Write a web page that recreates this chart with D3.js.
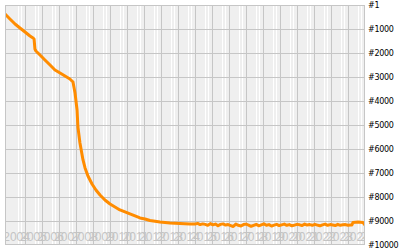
<!DOCTYPE html>
<html>
<head>
<meta charset="utf-8">
<script src="https://cdn.jsdelivr.net/npm/d3@7"></script>
<style>
body { margin: 0; background: #fff; }
</style>
</head>
<body>
<div id="chart"></div>
<script>
var w = 400;
var h = 250;
var padL = 5, padR = 365, padT = 5, padB = 245;

// rank history, decimal year -> rank
var years = [2003.82, 2004.11, 2004.41, 2004.70, 2005.00, 2005.29, 2005.47, 2005.53, 2005.58, 2005.64,
    2005.88, 2006.17, 2006.47, 2006.76, 2007.06, 2007.35, 2007.64, 2007.82, 2007.94, 2008.06,
    2008.11, 2008.23, 2008.41, 2008.53, 2008.70, 2008.94, 2009.17, 2009.41, 2009.70, 2010.00,
    2010.29, 2010.58, 2010.88, 2011.17, 2011.47, 2011.76, 2012.06, 2012.35, 2012.94, 2013.53,
    2014.11, 2014.70, 2015.00, 2015.15, 2015.30, 2015.45, 2015.60, 2015.75, 2015.90, 2016.05,
    2016.20, 2016.35, 2016.50, 2016.65, 2016.80, 2016.95, 2017.10, 2017.25, 2017.40, 2017.55,
    2017.70, 2017.85, 2018.00, 2018.15, 2018.30, 2018.45, 2018.60, 2018.75, 2018.90, 2019.05,
    2019.20, 2019.35, 2019.50, 2019.65, 2019.80, 2019.95, 2020.10, 2020.25, 2020.40, 2020.55,
    2020.70, 2020.85, 2021.00, 2021.15, 2021.30, 2021.45, 2021.60, 2021.75, 2021.90, 2022.05,
    2022.20, 2022.35, 2022.50, 2022.65, 2022.80, 2022.95, 2023.10, 2023.25, 2023.40, 2023.55,
    2023.70, 2023.85, 2024.00, 2024.15, 2024.23, 2024.29, 2024.60, 2024.88, 2025.00];
var ranks = [375, 583, 792, 958, 1125, 1292, 1375, 1417, 1833, 1917,
    2083, 2291, 2500, 2708, 2833, 2958, 3083, 3208, 3666, 4374,
    5083, 5749, 6457, 6790, 7124, 7457, 7707, 7916, 8124, 8290,
    8415, 8540, 8624, 8707, 8790, 8874, 8915, 8978, 9040, 9082,
    9103, 9124, 9130, 9100, 9150, 9120, 9140, 9180, 9110, 9160,
    9130, 9200, 9140, 9120, 9170, 9150, 9190, 9230, 9130, 9180,
    9210, 9150, 9130, 9170, 9220, 9180, 9140, 9200, 9160, 9120,
    9180, 9150, 9210, 9170, 9140, 9190, 9160, 9130, 9180, 9150,
    9200, 9170, 9140, 9160, 9190, 9130, 9170, 9150, 9180, 9140,
    9170, 9200, 9160, 9130, 9180, 9150, 9170, 9190, 9140, 9180,
    9160, 9150, 9180, 9170, 9170, 9060, 9040, 9060, 9170];

var yTicks = [1, 1000, 2000, 3000, 4000, 5000, 6000, 7000, 8000, 9000, 10000];
var xLabels = ["2004", "2005", "2006", "2007", "2008", "2009", "2010", "2011", "2012", "2013", "2014",
    "2015", "2016", "2017", "2018", "2019", "2020", "2021", "2022", "2023", "2024", "2025"];
var xGrid = [2005, 2006, 2007, 2008, 2009, 2010, 2011, 2012, 2013, 2014, 2015, 2016, 2017, 2018,
    2019, 2020, 2021, 2022, 2023, 2024];

var svg = d3.select("#chart")
    .append("svg")
    .attr("width", w)
    .attr("height", h);

var xScale = d3.scaleLinear()
    .domain([2003.82, 2025.0])
    .range([padL, padR]);

var yScale = d3.scaleLinear()
    .domain([1, 10000])
    .range([padT, padB]);

svg.append("defs").append("clipPath")
    .attr("id", "clip")
    .append("rect")
    .attr("x", padL)
    .attr("y", padT)
    .attr("width", padR - padL)
    .attr("height", padB - padT);

svg.append("rect")
    .attr("x", padL)
    .attr("y", padT)
    .attr("width", padR - padL)
    .attr("height", padB - padT)
    .attr("fill", "#efefef");

var plot = svg.append("g").attr("clip-path", "url(#clip)");

// light stripes inside each year
plot.selectAll("line.stripe")
    .data(d3.merge(xGrid.concat([2004]).map(function(y) { return [y + 0.6, y + 0.78]; })))
    .enter().append("line")
    .attr("class", "stripe")
    .attr("x1", function(d) { return Math.round(xScale(d)) + 0.5; })
    .attr("x2", function(d) { return Math.round(xScale(d)) + 0.5; })
    .attr("y1", padT)
    .attr("y2", padB)
    .attr("stroke", "#fff")
    .attr("stroke-width", 1);

plot.selectAll("line.hgrid")
    .data(yTicks)
    .enter().append("line")
    .attr("class", "hgrid")
    .attr("x1", padL)
    .attr("x2", padR)
    .attr("y1", function(d) { return Math.round(yScale(d)) + 0.5; })
    .attr("y2", function(d) { return Math.round(yScale(d)) + 0.5; })
    .attr("stroke", "#c6c6c6");

plot.selectAll("line.vgrid")
    .data(xGrid)
    .enter().append("line")
    .attr("class", "vgrid")
    .attr("x1", function(d) { return Math.round(xScale(d)) + 0.5; })
    .attr("x2", function(d) { return Math.round(xScale(d)) + 0.5; })
    .attr("y1", padT)
    .attr("y2", padB)
    .attr("stroke", "#c6c6c6");

plot.selectAll("text.xlab")
    .data(xLabels)
    .enter().append("text")
    .attr("class", "xlab")
    .attr("x", function(d) { return xScale(+d + 0.5); })
    .attr("y", 241)
    .attr("text-anchor", "middle")
    .attr("font-family", "Liberation Sans, Arial, sans-serif")
    .attr("font-size", 12)
    .attr("fill", "#c4c4c4")
    .text(function(d) { return d; });

var line = d3.line()
    .x(function(d, i) { return xScale(years[i]); })
    .y(function(d) { return yScale(d); });

plot.append("path")
    .datum(ranks)
    .attr("d", line)
    .attr("fill", "none")
    .attr("stroke", "#ff8c00")
    .attr("stroke-width", 3)
    .attr("stroke-linejoin", "round");

svg.append("rect")
    .attr("x", padL + 0.5)
    .attr("y", padT + 0.5)
    .attr("width", padR - padL - 1)
    .attr("height", padB - padT - 1)
    .attr("fill", "none")
    .attr("stroke", "#c6c6c6");

svg.selectAll("text.ylab")
    .data(yTicks)
    .enter().append("text")
    .attr("class", "ylab")
    .attr("x", 368)
    .attr("y", function(d) { return yScale(d); })
    .attr("dy", "0.35em")
    .attr("font-family", "DejaVu Sans, sans-serif")
    .attr("font-size", 8)
    .attr("letter-spacing", -0.3)
    .attr("fill", "#000")
    .text(function(d) { return "#" + d; });
</script>
</body>
</html>
